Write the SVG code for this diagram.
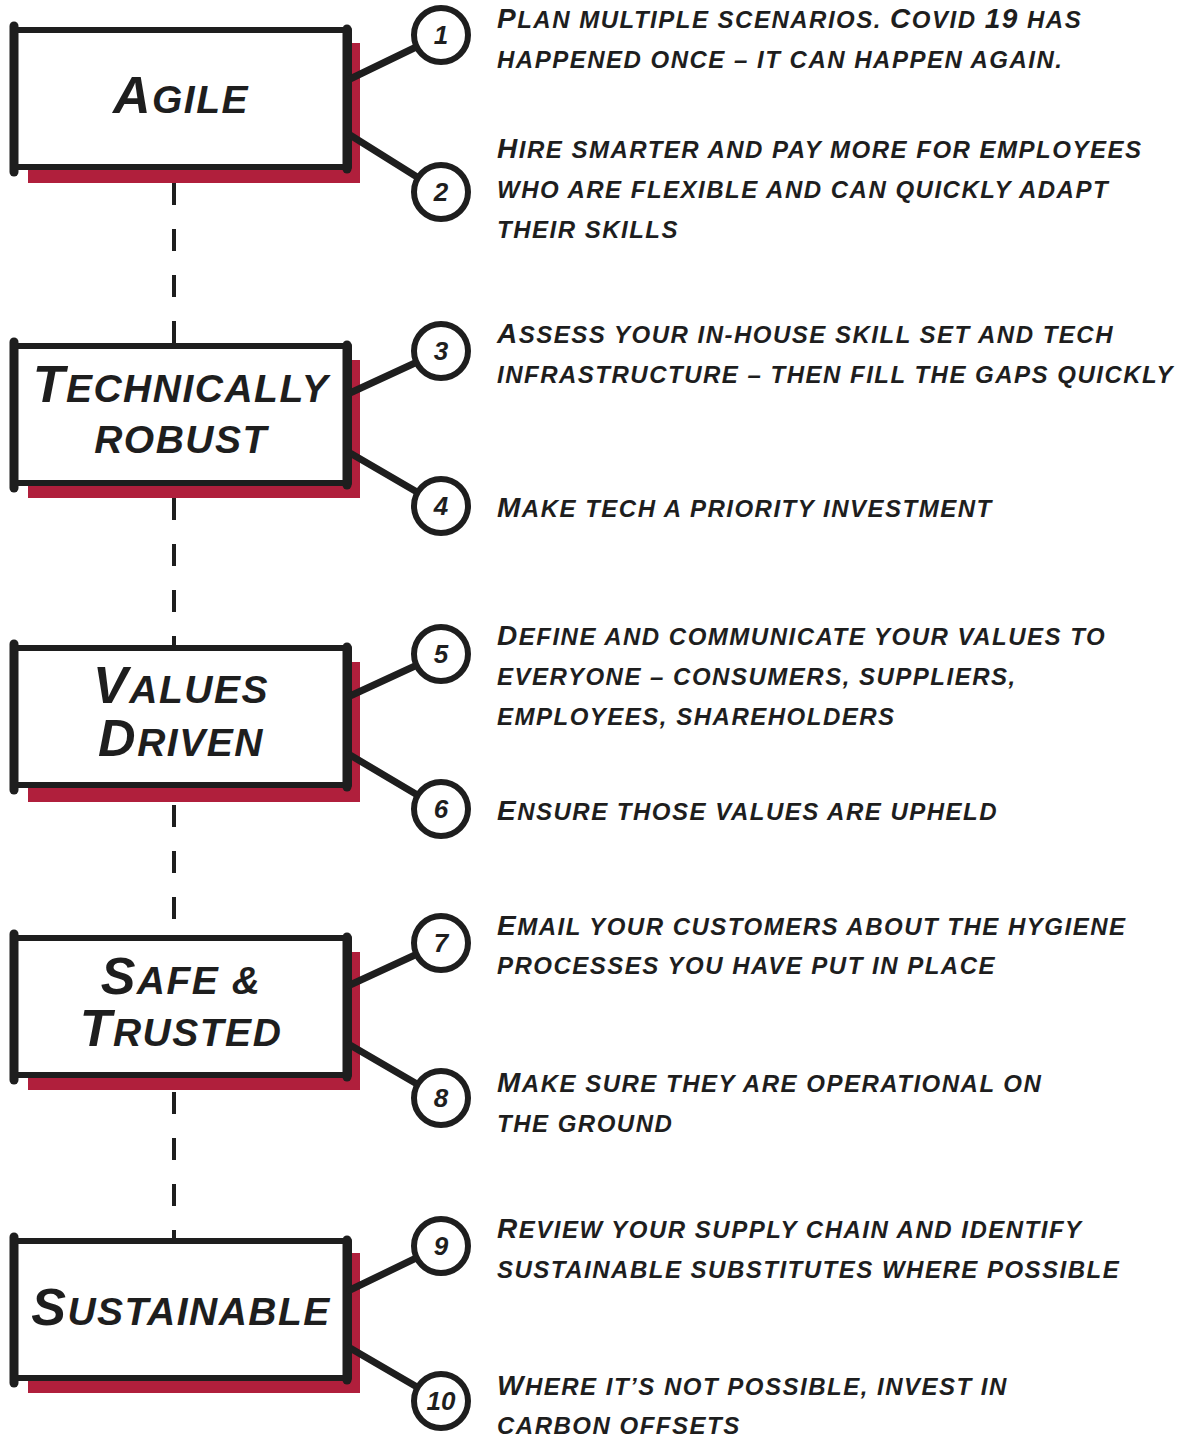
<svg xmlns="http://www.w3.org/2000/svg" width="1188" height="1439" viewBox="0 0 1188 1439">
  <style>
    .shadow { fill: #B01F3C; }
    .box { fill: #ffffff; stroke: #1e1e1e; stroke-width: 6; stroke-linejoin: round; }
    .edge { stroke: #1e1e1e; stroke-width: 9; stroke-linecap: round; fill: none; }
    .label { font-family: "Liberation Sans", Arial, sans-serif; font-weight: bold; font-style: italic; text-transform: uppercase; font-size: 39px; letter-spacing: 1.5px; fill: #1e1e1e; text-anchor: middle; }
    .label .cap { font-size: 52px; }
    .link { stroke: #1e1e1e; stroke-width: 7; stroke-linecap: round; fill: none; }
    .dash { stroke: #1e1e1e; stroke-width: 4; stroke-dasharray: 22 24; fill: none; }
    .badge circle { fill: #ffffff; stroke: #1e1e1e; stroke-width: 6; }
    .badge text { font-family: "Liberation Sans", Arial, sans-serif; font-weight: bold; font-style: italic; font-size: 26px; fill: #1e1e1e; text-anchor: middle; }
    .note { font-family: "Liberation Sans", Arial, sans-serif; font-weight: bold; font-style: italic; text-transform: uppercase; font-size: 24px; letter-spacing: 1.5px; fill: #1e1e1e; }
    .note .cap { font-size: 28px; }
  </style>

  <!-- dashed spine between the boxes -->
  <g id="connectors">
    <line class="dash" x1="174" y1="183" x2="174" y2="345"/>
    <line class="dash" x1="174" y1="498" x2="174" y2="647"/>
    <line class="dash" x1="174" y1="805" x2="174" y2="937"/>
    <line class="dash" x1="174" y1="1092" x2="174" y2="1240"/>
  </g>

  <!-- category boxes -->
  <g id="node-agile" transform="translate(0,27)">
    <rect class="shadow" x="28" y="16" width="332" height="140"/>
    <rect class="box" x="14" y="3" width="335" height="137"/>
    <line class="edge" x1="14" y1="-1" x2="14" y2="145"/>
    <line class="edge" x1="347" y1="2" x2="347" y2="142"/>
    <text class="label" x="181" y="86"><tspan class="cap">A</tspan>gile</text>
  </g>
  <g id="node-technically-robust" transform="translate(0,343)">
    <rect class="shadow" x="28" y="17" width="332" height="138"/>
    <rect class="box" x="14" y="3" width="335" height="137"/>
    <line class="edge" x1="14" y1="-1" x2="14" y2="145"/>
    <line class="edge" x1="347" y1="2" x2="347" y2="142"/>
    <text class="label" x="181" y="59"><tspan class="cap">T</tspan>echnically</text>
    <text class="label" x="181" y="110">robust</text>
  </g>
  <g id="node-values-driven" transform="translate(0,645)">
    <rect class="shadow" x="28" y="17" width="332" height="140"/>
    <rect class="box" x="14" y="3" width="335" height="137"/>
    <line class="edge" x1="14" y1="-1" x2="14" y2="145"/>
    <line class="edge" x1="347" y1="2" x2="347" y2="142"/>
    <text class="label" x="181" y="58"><tspan class="cap">V</tspan>alues</text>
    <text class="label" x="181" y="111"><tspan class="cap">D</tspan>riven</text>
  </g>
  <g id="node-safe-trusted" transform="translate(0,935)">
    <rect class="shadow" x="28" y="17" width="332" height="138"/>
    <rect class="box" x="14" y="3" width="335" height="137"/>
    <line class="edge" x1="14" y1="-1" x2="14" y2="145"/>
    <line class="edge" x1="347" y1="2" x2="347" y2="142"/>
    <text class="label" x="181" y="59"><tspan class="cap">S</tspan>afe &amp;</text>
    <text class="label" x="181" y="111"><tspan class="cap">T</tspan>rusted</text>
  </g>
  <g id="node-sustainable" transform="translate(0,1238)">
    <rect class="shadow" x="28" y="15" width="332" height="140"/>
    <rect class="box" x="14" y="3" width="335" height="137"/>
    <line class="edge" x1="14" y1="-1" x2="14" y2="145"/>
    <line class="edge" x1="347" y1="2" x2="347" y2="142"/>
    <text class="label" x="181" y="87"><tspan class="cap">S</tspan>ustainable</text>
  </g>

  <!-- spokes from each box to its numbered badges -->
  <g id="spokes">
    <line class="link" x1="350" y1="79" x2="441" y2="35"/>
    <line class="link" x1="350" y1="135" x2="441" y2="192"/>
    <line class="link" x1="350" y1="393" x2="441" y2="351"/>
    <line class="link" x1="350" y1="453" x2="441" y2="506"/>
    <line class="link" x1="350" y1="696" x2="441" y2="654"/>
    <line class="link" x1="350" y1="755" x2="441" y2="809"/>
    <line class="link" x1="350" y1="985" x2="441" y2="943"/>
    <line class="link" x1="350" y1="1045" x2="441" y2="1098"/>
    <line class="link" x1="350" y1="1290" x2="441" y2="1246"/>
    <line class="link" x1="350" y1="1348" x2="441" y2="1401"/>
  </g>

  <!-- numbered badges -->
  <g id="badge-1" class="badge"><circle cx="441" cy="35" r="27"/><text x="441" y="44">1</text></g>
  <g id="badge-2" class="badge"><circle cx="441" cy="192" r="27"/><text x="441" y="201">2</text></g>
  <g id="badge-3" class="badge"><circle cx="441" cy="351" r="27"/><text x="441" y="360">3</text></g>
  <g id="badge-4" class="badge"><circle cx="441" cy="506" r="27"/><text x="441" y="515">4</text></g>
  <g id="badge-5" class="badge"><circle cx="441" cy="654" r="27"/><text x="441" y="663">5</text></g>
  <g id="badge-6" class="badge"><circle cx="441" cy="809" r="27"/><text x="441" y="818">6</text></g>
  <g id="badge-7" class="badge"><circle cx="441" cy="943" r="27"/><text x="441" y="952">7</text></g>
  <g id="badge-8" class="badge"><circle cx="441" cy="1098" r="27"/><text x="441" y="1107">8</text></g>
  <g id="badge-9" class="badge"><circle cx="441" cy="1246" r="27"/><text x="441" y="1255">9</text></g>
  <g id="badge-10" class="badge"><circle cx="441" cy="1401" r="27"/><text x="441" y="1410">10</text></g>

  <!-- action notes -->
  <g id="note-1">
    <text class="note" x="497" y="28"><tspan class="cap">P</tspan>lan multiple scenarios. <tspan class="cap">C</tspan>ovid <tspan class="cap">19</tspan> has</text>
    <text class="note" x="497" y="68">happened once – it can happen again.</text>
  </g>
  <g id="note-2">
    <text class="note" x="497" y="158"><tspan class="cap">H</tspan>ire smarter and pay more for employees</text>
    <text class="note" x="497" y="198">who are flexible and can quickly adapt</text>
    <text class="note" x="497" y="238">their skills</text>
  </g>
  <g id="note-3">
    <text class="note" x="497" y="343"><tspan class="cap">A</tspan>ssess your in-house skill set and tech</text>
    <text class="note" x="497" y="383">infrastructure – then fill the gaps quickly</text>
  </g>
  <g id="note-4">
    <text class="note" x="497" y="517"><tspan class="cap">M</tspan>ake tech a priority investment</text>
  </g>
  <g id="note-5">
    <text class="note" x="497" y="645"><tspan class="cap">D</tspan>efine and communicate your values to</text>
    <text class="note" x="497" y="685">everyone – consumers, suppliers,</text>
    <text class="note" x="497" y="725">employees, shareholders</text>
  </g>
  <g id="note-6">
    <text class="note" x="497" y="820"><tspan class="cap">E</tspan>nsure those values are upheld</text>
  </g>
  <g id="note-7">
    <text class="note" x="497" y="935"><tspan class="cap">E</tspan>mail your customers about the hygiene</text>
    <text class="note" x="497" y="974">processes you have put in place</text>
  </g>
  <g id="note-8">
    <text class="note" x="497" y="1092"><tspan class="cap">M</tspan>ake sure they are operational on</text>
    <text class="note" x="497" y="1132">the ground</text>
  </g>
  <g id="note-9">
    <text class="note" x="497" y="1238"><tspan class="cap">R</tspan>eview your supply chain and identify</text>
    <text class="note" x="497" y="1278">sustainable substitutes where possible</text>
  </g>
  <g id="note-10">
    <text class="note" x="497" y="1395"><tspan class="cap">W</tspan>here it’s not possible, invest in</text>
    <text class="note" x="497" y="1434">carbon offsets</text>
  </g>
</svg>
